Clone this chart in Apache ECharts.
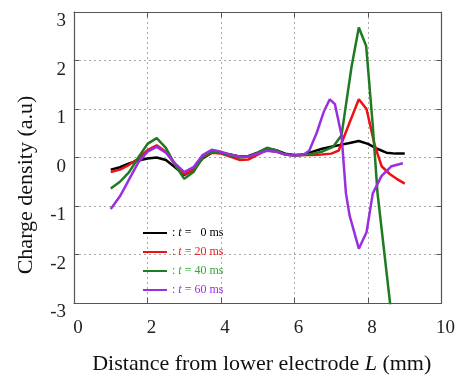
<!DOCTYPE html>
<html>
<head>
<meta charset="utf-8">
<script src="https://cdn.jsdelivr.net/npm/echarts@6/dist/echarts.min.js"></script>
<style>
  html, body { margin: 0; padding: 0; background: #fff; }
  #main { width: 458px; height: 380px; }
</style>
</head>
<body>
<div id="main"></div>
<script>
// values, [L (mm), charge density]
var t0 = [[1.0,-0.25],[1.25,-0.2],[1.5,-0.12],[1.75,-0.06],[2.0,-0.02],[2.25,0.0],[2.5,-0.05],[2.75,-0.2],[3.0,-0.36],[3.25,-0.25],[3.5,-0.02],[3.75,0.1],[4.0,0.1],[4.25,0.06],[4.5,0.02],[4.75,0.03],[5.0,0.1],[5.25,0.18],[5.5,0.15],[5.75,0.08],[6.0,0.05],[6.25,0.06],[6.5,0.12],[6.75,0.18],[7.0,0.22],[7.25,0.26],[7.5,0.3],[7.75,0.34],[8.0,0.28],[8.25,0.18],[8.5,0.1],[8.75,0.08],[9.0,0.08]];
var t20 = [[1.0,-0.3],[1.25,-0.25],[1.5,-0.15],[1.75,-0.02],[2.0,0.15],[2.25,0.25],[2.5,0.12],[2.75,-0.15],[3.0,-0.35],[3.25,-0.25],[3.5,0.0],[3.75,0.1],[4.0,0.08],[4.25,0.02],[4.5,-0.05],[4.75,-0.04],[5.0,0.06],[5.25,0.15],[5.5,0.12],[5.75,0.06],[6.0,0.04],[6.25,0.05],[6.5,0.05],[6.75,0.06],[7.0,0.08],[7.2,0.14],[7.5,0.72],[7.75,1.2],[7.96,1.0],[8.18,0.26],[8.37,-0.18],[8.59,-0.34],[8.78,-0.44],[9.0,-0.54]];
var t40 = [[1.0,-0.64],[1.25,-0.5],[1.5,-0.3],[1.75,0.0],[2.0,0.28],[2.25,0.4],[2.5,0.2],[2.75,-0.15],[3.0,-0.44],[3.25,-0.3],[3.5,0.0],[3.75,0.12],[4.0,0.1],[4.25,0.04],[4.5,0.0],[4.75,0.02],[5.0,0.1],[5.25,0.2],[5.5,0.15],[5.75,0.06],[6.0,0.04],[6.25,0.05],[6.5,0.08],[6.75,0.12],[7.05,0.22],[7.28,0.46],[7.55,1.86],[7.75,2.68],[7.95,2.3],[8.13,0.66],[8.26,-0.74],[8.6,-3.0],[8.65,-3.3]];
var t60 = [[1.0,-1.06],[1.25,-0.8],[1.5,-0.45],[1.75,-0.1],[2.0,0.12],[2.25,0.22],[2.5,0.1],[2.75,-0.12],[3.0,-0.3],[3.25,-0.2],[3.5,0.05],[3.75,0.16],[4.0,0.12],[4.25,0.06],[4.5,0.02],[4.75,0.02],[5.0,0.08],[5.25,0.14],[5.5,0.12],[5.75,0.06],[6.0,0.04],[6.25,0.06],[6.4,0.14],[6.6,0.5],[6.8,0.95],[6.96,1.2],[7.1,1.1],[7.28,0.46],[7.4,-0.74],[7.5,-1.2],[7.75,-1.88],[7.96,-1.54],[8.13,-0.74],[8.37,-0.38],[8.64,-0.18],[8.95,-0.12]];

var names = ['t = 0 ms', 't = 20 ms', 't = 40 ms', 't = 60 ms'];
var legendText = ['=   0 ms', '= 20 ms', '= 40 ms', '= 60 ms'];
var colors = ['#000000', '#ee1111', '#1f7a22', '#9a2fe0'];
var legendTextColors = ['#000000', '#ee2222', '#33aa33', '#9a2fe0'];

var serif = '"Liberation Serif", "Times New Roman", serif';
var myChart = echarts.init(document.getElementById('main'));

function mkSeries(i, data) {
  return {
    name: names[i],
    type: 'line',
    data: data,
    showSymbol: false,
    clip: true,
    lineStyle: { color: colors[i], width: 2.5 },
    itemStyle: { color: colors[i] }
  };
}

var frame = { show: true, onZero: false, lineStyle: { color: '#555', width: 1.2 } };
var grid = { show: true, lineStyle: { color: '#aaa', type: [2, 3], width: 1 } };
var ticks = { show: true, inside: true, length: 5, lineStyle: { color: '#555' } };

var option = {
  animation: false,
  grid: { left: 74, right: 16, top: 12, bottom: 67 },
  legend: {
    left: 138,
    top: 222,
    orient: 'vertical',
    itemWidth: 24,
    itemHeight: 2,
    itemGap: 7,
    icon: 'rect',
    textStyle: {
      fontFamily: serif, fontSize: 12,
      rich: { i: { fontFamily: serif, fontSize: 12, fontStyle: 'italic' } }
    },
    data: names.map(function (n, i) {
      return { name: n, textStyle: { color: legendTextColors[i] } };
    }),
    formatter: function (n) {
      var i = names.indexOf(n);
      return ': {i|t} ' + legendText[i];
    }
  },
  xAxis: [{
    type: 'value', min: 0, max: 10, interval: 2,
    axisLine: frame, axisTick: ticks, splitLine: grid,
    axisLabel: { fontFamily: serif, fontSize: 19, color: '#222', margin: 16, padding: [0, 0, 0, 8] },
    name: 'Distance from lower electrode {i|L} (mm)',
    nameLocation: 'middle',
    nameGap: 50,
    nameTextStyle: {
      fontFamily: serif, fontSize: 22, color: '#111', padding: [0, 0, 0, 8],
      rich: { i: { fontFamily: serif, fontSize: 22, fontStyle: 'italic', color: '#111' } }
    }
  }, {
    type: 'value', position: 'top', min: 0, max: 10, interval: 2,
    axisLine: frame, axisTick: ticks, axisLabel: { show: false }, splitLine: { show: false }
  }],
  yAxis: [{
    type: 'value', min: -3, max: 3, interval: 1,
    axisLine: frame, axisTick: ticks, splitLine: grid,
    axisLabel: { fontFamily: serif, fontSize: 19, color: '#222', margin: 8, verticalAlign: 'top' }
  }, {
    type: 'value', position: 'right', min: -3, max: 3, interval: 1,
    axisLine: frame, axisTick: ticks, axisLabel: { show: false }, splitLine: { show: false }
  }],
  graphic: [{
    type: 'text',
    x: 26, y: 185,
    rotation: Math.PI / 2,
    style: {
      text: 'Charge density (a.u)',
      font: '22px ' + serif,
      fill: '#111',
      align: 'center',
      verticalAlign: 'middle'
    }
  }],
  series: [mkSeries(0, t0), mkSeries(1, t20), mkSeries(2, t40), mkSeries(3, t60)]
};
myChart.setOption(option);
</script>
</body>
</html>
